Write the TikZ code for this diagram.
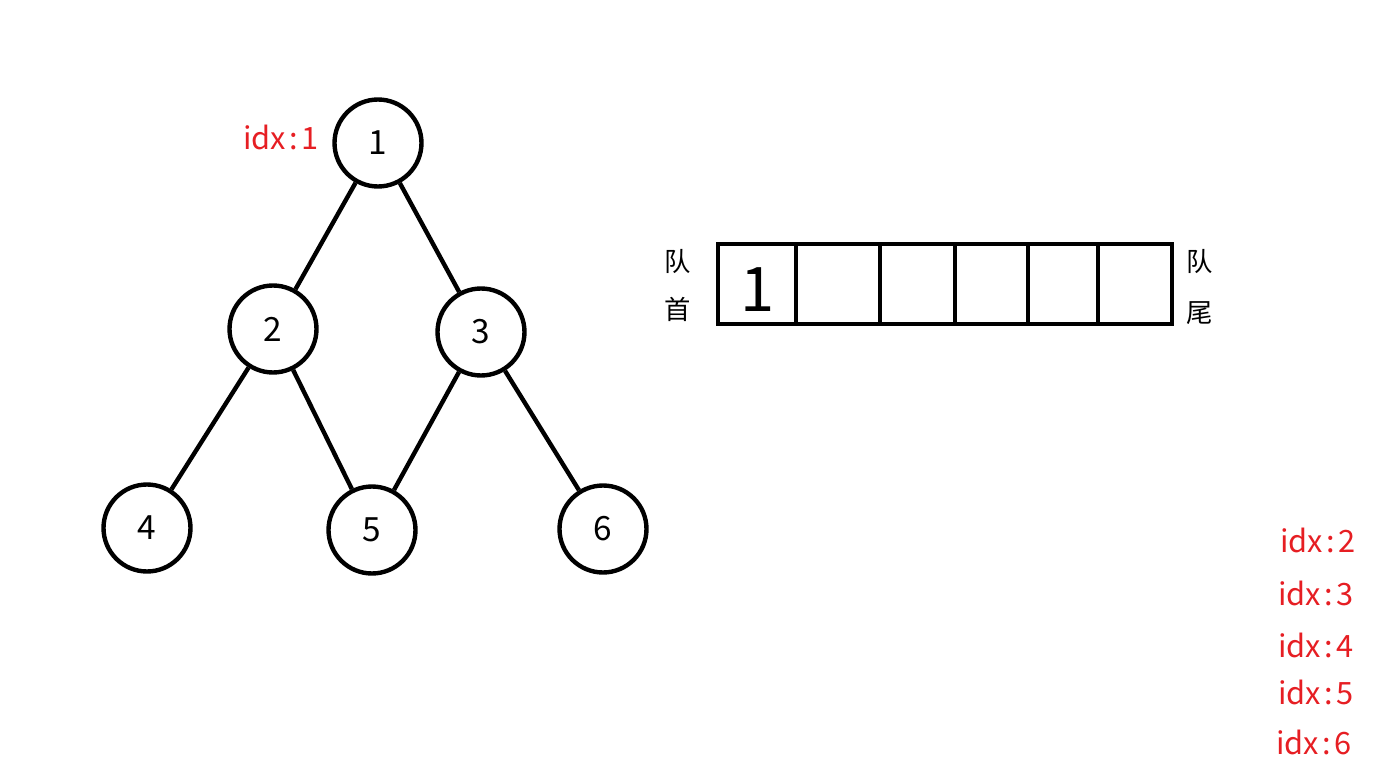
\documentclass[tikz,border=0pt]{standalone}
\usepackage{fontspec}
\setmainfont{Noto Sans CJK SC}
\definecolor{idxred}{RGB}{230,30,35}
\newcommand{\idxtext}[1]{idx\hspace{0.12em}:\hspace{0.12em}#1}

\begin{document}
\begin{tikzpicture}[x=0.02cm, y=-0.02cm,
    treenode/.style={draw, circle, line width=2.5pt, minimum size=1.74cm, inner sep=0pt, font=\fontsize{19}{21}\selectfont},
    idxlabel/.style={text=idxred, font=\fontsize{17.5}{19}\selectfont},
    qlabel/.style={font=\fontsize{15}{17}\selectfont}]
    \useasboundingbox (0,0) rectangle (1384,777); % keeps the page the size of the picture

    % the tree
    \node [treenode] (n1) at (378,143) {1};
    \node [treenode] (n2) at (273,329) {2};
    \node [treenode] (n3) at (481,332) {3};
    \node [treenode] (n4) at (147,528) {4};
    \node [treenode] (n5) at (372,530) {5};
    \node [treenode] (n6) at (603,529) {6};
    \draw [line width=2.5pt] (n1) -- (n2); % 1 to its left child
    \draw [line width=2.5pt] (n1) -- (n3); % 1 to its right child
    \draw [line width=2.5pt] (n2) -- (n4);
    \draw [line width=2.5pt] (n2) -- (n5);
    \draw [line width=2.5pt] (n3) -- (n5);
    \draw [line width=2.5pt] (n3) -- (n6);
    \node [idxlabel] (i1) at (281,137) {\idxtext{1}};

    % the queue
    \draw [line width=2.5pt] (718,244) rectangle (1172,324); % outer box of the queue
    \draw [line width=2.5pt] (796,244) -- (796,324);
    \draw [line width=2.5pt] (880,244) -- (880,324);
    \draw [line width=2.5pt] (955,244) -- (955,324);
    \draw [line width=2.5pt] (1028,244) -- (1028,324);
    \draw [line width=2.5pt] (1098,244) -- (1098,324);
    \node [font=\fontsize{35}{37}\selectfont] (q1) at (758,290) {1};
    \node [qlabel] (head1) at (678,262) {队};
    \node [qlabel] (head2) at (678,309) {首};
    \node [qlabel] (tail1) at (1200,262) {队};
    \node [qlabel] (tail2) at (1200,313) {尾};

    % indices still to come
    \node [idxlabel] (i2) at (1318,540) {\idxtext{2}};
    \node [idxlabel] (i3) at (1316,593) {\idxtext{3}};
    \node [idxlabel] (i4) at (1316,645) {\idxtext{4}};
    \node [idxlabel] (i5) at (1316,692) {\idxtext{5}};
    \node [idxlabel] (i6) at (1314,742) {\idxtext{6}};
\end{tikzpicture}
\end{document}
